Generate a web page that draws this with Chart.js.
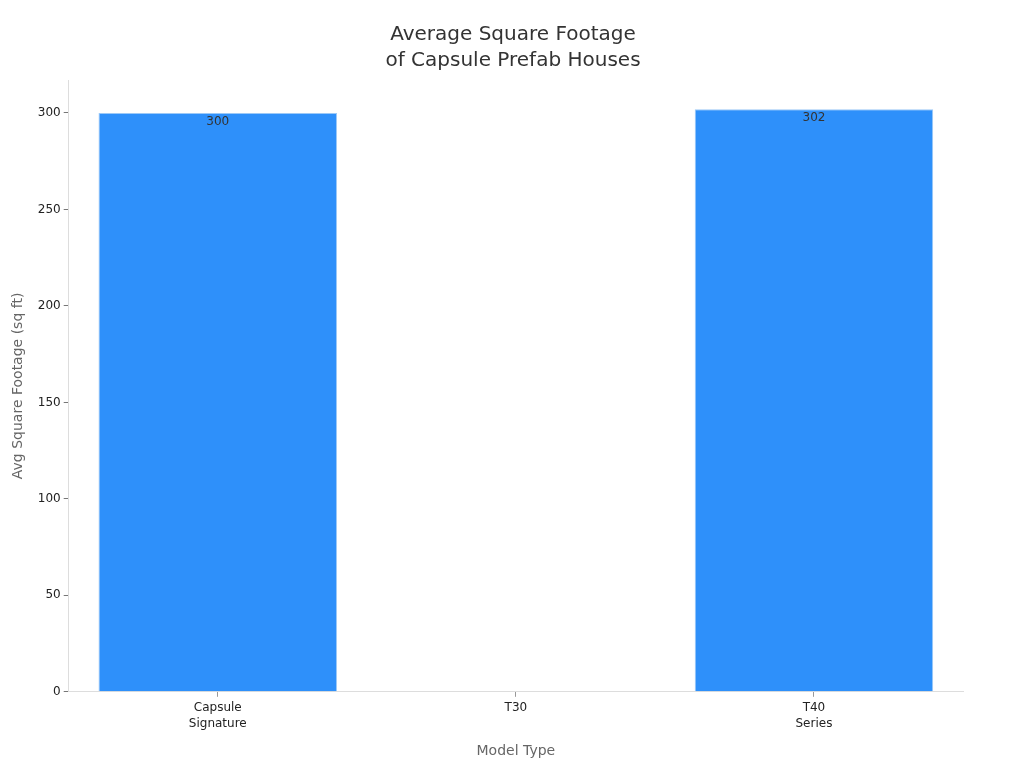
<!DOCTYPE html>
<html>
<head>
<meta charset="utf-8">
<script src="https://cdn.jsdelivr.net/npm/chart.js@4/dist/chart.umd.min.js"></script>
<style>
  html, body { margin: 0; padding: 0; background: #fff; }
  #wrap { width: 1024px; height: 768px; }
</style>
</head>
<body>
<div id="wrap"><canvas id="chart"></canvas></div>
<script>
const categories = [["Capsule", "Signature"], "T30", ["T40", "Series"]];
const footage = [300, 0, 302];
const labelText = ["300", "", "302"];

Chart.defaults.font.family = "'DejaVu Sans', sans-serif";

// value labels just inside the top of each bar
const barLabels = {
    id: "barLabels",
    afterDatasetsDraw(chart) {
        const ctx = chart.ctx;
        const meta = chart.getDatasetMeta(0);
        ctx.save();
        ctx.font = "12px 'DejaVu Sans', sans-serif";
        ctx.fillStyle = "#333333";
        ctx.textAlign = "center";
        ctx.textBaseline = "top";
        meta.data.forEach((bar, i) => {
            if (!labelText[i]) return;
            ctx.fillText(labelText[i], bar.x, bar.y + 3);
        });
        ctx.restore();
    }
};

const ctx = document.getElementById("chart").getContext("2d");
new Chart(ctx, {
    type: "bar",
    data: {
        labels: categories,
        datasets: [{
            label: "Avg Square Footage",
            data: footage,
            backgroundColor: "#2e90fa",
            borderColor: "#9cc9f7",
            borderWidth: 1,
            barPercentage: 0.8,
            categoryPercentage: 1.0
        }]
    },
    options: {
        responsive: true,
        maintainAspectRatio: false,
        animation: false,
        layout: { padding: { left: 6, right: 4, top: 12, bottom: 4 } },
        plugins: {
            legend: { display: false },
            tooltip: { enabled: false },
            title: {
                display: true,
                text: ["Average Square Footage", "of Capsule Prefab Houses"],
                color: "#333333",
                font: { size: 20, weight: "normal", lineHeight: 1.3 },
                padding: { top: 10, bottom: 6 }
            }
        },
        scales: {
            x: {
                grid: { drawOnChartArea: false, offset: false, drawTicks: true, tickLength: 5, tickColor: "#999999" },
                border: { color: "#dddddd" },
                ticks: { color: "#222222", font: { size: 12, lineHeight: 1.35 }, padding: 3 },
                title: {
                    display: true,
                    text: "Model Type",
                    color: "#666666",
                    font: { size: 14 },
                    padding: { top: 8 }
                }
            },
            y: {
                beginAtZero: true,
                max: 317.1,
                grid: { drawOnChartArea: false, drawTicks: true, tickLength: 5, tickColor: "#777777" },
                border: { color: "#dddddd" },
                afterBuildTicks: (axis) => {
                    axis.ticks = axis.ticks.filter((t) => t.value % 50 === 0);
                },
                ticks: {
                    stepSize: 50,
                    color: "#222222",
                    font: { size: 12 },
                    padding: 3
                },
                title: {
                    display: true,
                    text: "Avg Square Footage (sq ft)",
                    color: "#666666",
                    font: { size: 14 },
                    padding: { bottom: 8 }
                }
            },
            // empty right-hand axis, only reserves space so the title centres on the page
            spacer: {
                type: "linear",
                position: "right",
                display: true,
                grid: { display: false },
                border: { display: false },
                ticks: { display: false },
                afterFit: (axis) => { axis.width = 57; }
            }
        }
    },
    plugins: [barLabels]
});
</script>
</body>
</html>
